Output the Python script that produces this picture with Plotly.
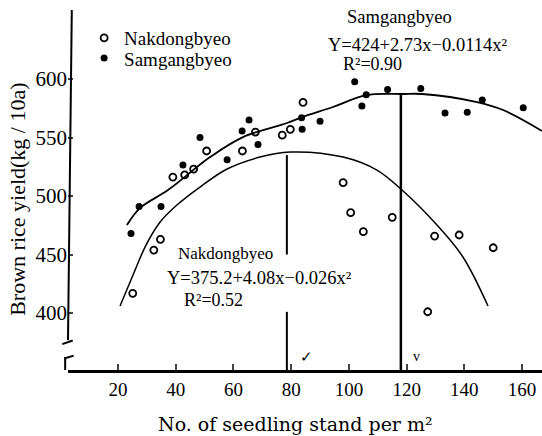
import plotly.graph_objects as go

# ---- data ----
nak_x = [25.1, 32.4, 34.7, 39.0, 43.1, 46.2, 50.7, 63.1, 67.6, 76.9, 79.7, 84.1,
         98.0, 100.6, 105.0, 115.0, 127.3, 129.7, 138.2, 150.0]
nak_y = [416.8, 453.8, 463.0, 516.2, 518.0, 523.0, 538.5, 538.5, 554.7, 552.0, 557.0, 580.0,
         511.4, 485.8, 469.5, 481.8, 401.1, 465.8, 466.7, 455.8]

sam_x = [24.5, 27.3, 34.9, 42.5, 48.4, 57.8, 63.0, 65.4, 68.5, 83.6, 83.8, 90.0,
         102.0, 104.5, 106.0, 113.4, 124.9, 133.3, 141.0, 146.2, 160.4]
sam_y = [468.0, 491.0, 491.0, 526.5, 550.0, 531.0, 555.6, 565.0, 544.0, 567.0, 557.0, 564.0,
         597.7, 577.0, 586.6, 591.0, 592.0, 571.0, 571.5, 582.0, 575.5]

# fitted curves as drawn in the figure
sam_curve_x = [23.1, 27.6, 37.3, 51.9, 63.3, 78.6, 83.8, 94.5, 106.0, 118.8, 125.3, 144.4, 153.4, 166.9]
sam_curve_y = [475.2, 489.7, 505.1, 533.3, 550.4, 562.4, 567.5, 576.1, 586.3, 587.2, 587.2, 580.3, 573.5, 555.6]

nak_curve_x = [20.7, 25.2, 29.7, 34.6, 40.4, 48.4, 57.8, 69.2, 79.6, 98.0, 109.7, 118.4, 130.5, 139.5, 148.2]
nak_curve_y = [406.0, 432.5, 458.1, 477.8, 492.3, 507.7, 523.1, 533.3, 537.6, 533.3, 522.2, 505.1, 475.2, 447.9, 406.0]

# optimum stand lines (x, top, gap)
nak_opt_x = 78.5
nak_opt_top = 535.0
nak_gap = [450.0, 401.0]
sam_opt_x = 118.0
sam_opt_top = 587.0

x_ticks = [20, 40, 60, 80, 100, 120, 140, 160]
y_ticks = [400, 450, 500, 550, 600]
x_range = [2.67, 166.9]
y_range = [351.3, 659.0]

FONT = "Liberation Serif"

fig = go.Figure()
fig.add_trace(go.Scatter(x=sam_curve_x, y=sam_curve_y, mode="lines", line=dict(color="black", width=1.8, shape="spline"),
                         showlegend=False, hoverinfo="skip"))
fig.add_trace(go.Scatter(x=nak_curve_x, y=nak_curve_y, mode="lines", line=dict(color="black", width=1.5, shape="spline"),
                         showlegend=False, hoverinfo="skip"))
fig.add_trace(go.Scatter(x=nak_x, y=nak_y, mode="markers", name="Nakdongbyeo", legend="legend",
                         marker=dict(symbol="circle-open", size=7, color="black", line=dict(width=1.8, color="black"))))
fig.add_trace(go.Scatter(x=sam_x, y=sam_y, mode="markers", name="Samgangbyeo", legend="legend2",
                         marker=dict(symbol="circle", size=7, color="black")))

# vertical optimum lines
fig.add_shape(type="line", x0=nak_opt_x, x1=nak_opt_x, y0=nak_opt_top, y1=nak_gap[0],
              line=dict(color="black", width=2))
fig.add_shape(type="line", x0=nak_opt_x, x1=nak_opt_x, y0=nak_gap[1], y1=y_range[0],
              line=dict(color="black", width=2))
fig.add_shape(type="line", x0=sam_opt_x, x1=sam_opt_x, y0=sam_opt_top, y1=y_range[0],
              line=dict(color="black", width=2.5))

# y axis line with break
fig.add_shape(type="line", xref="paper", yref="paper", x0=0.008, x1=0.0, y0=1.0, y1=0.083,
              line=dict(color="black", width=2))
fig.add_shape(type="line", xref="paper", yref="paper", x0=-0.012, x1=0.010, y0=0.072, y1=0.082,
              line=dict(color="black", width=2))
fig.add_shape(type="line", xref="paper", yref="paper", x0=-0.008, x1=0.012, y0=0.032, y1=0.040,
              line=dict(color="black", width=2))
fig.add_shape(type="line", xref="paper", yref="paper", x0=-0.006, x1=-0.006, y0=0.036, y1=0.0,
              line=dict(color="black", width=2))

ann = []
def txt(t, x, y, size, family=FONT, **kw):
    d = dict(text=t, x=x, y=y, xref="paper", yref="paper", showarrow=False,
             font=dict(family=family, size=size, color="black"), xanchor="center", yanchor="middle")
    d.update(kw)
    ann.append(d)

txt("Samgangbyeo", 0.700, 0.981, 18.5)
txt("Y=424+2.73x−0.0114x²", 0.738, 0.903, 18.5)
txt("R²=0.90", 0.643, 0.850, 18)
txt("Nakdongbyeo", 0.333, 0.325, 17)
txt("Y=375.2+4.08x−0.026x²", 0.403, 0.256, 18.5)
txt("R²=0.52", 0.308, 0.194, 18)
txt("✓", 0.504, 0.036, 15)
txt("v", 0.736, 0.038, 14)
txt("No. of seedling stand per m²", 0.479, -0.15, 19, family="DejaVu Serif")
txt("Brown rice yield(kg / 10a)", -0.108, 0.475, 22, textangle=-90)

legend_common = dict(xanchor="left", yanchor="middle", bgcolor="rgba(0,0,0,0)",
                     font=dict(family=FONT, size=19, color="black"), itemwidth=30)

fig.update_layout(
    width=542, height=436,
    margin=dict(l=68, r=0, t=10, b=66),
    paper_bgcolor="white", plot_bgcolor="white",
    font=dict(family=FONT, color="black"),
    annotations=ann,
    showlegend=True,
    legend=dict(x=0.034, y=0.922, **legend_common),
    legend2=dict(x=0.034, y=0.866, **legend_common),
    xaxis=dict(range=x_range, tickvals=x_ticks, ticks="inside", ticklen=6, tickwidth=1.5,
               showline=True, linewidth=2.5, linecolor="black", showgrid=False, zeroline=False,
               automargin=False, tickfont=dict(family=FONT, size=19, color="black")),
    yaxis=dict(range=y_range, tickvals=y_ticks, ticks="inside", ticklen=5, tickwidth=2,
               showline=False, showgrid=False, zeroline=False, automargin=False,
               tickfont=dict(family=FONT, size=21, color="black")),
)

fig.write_html("out.html", config={"displayModeBar": False},
               post_script="document.body.style.margin='0';document.body.style.overflow='hidden';")
